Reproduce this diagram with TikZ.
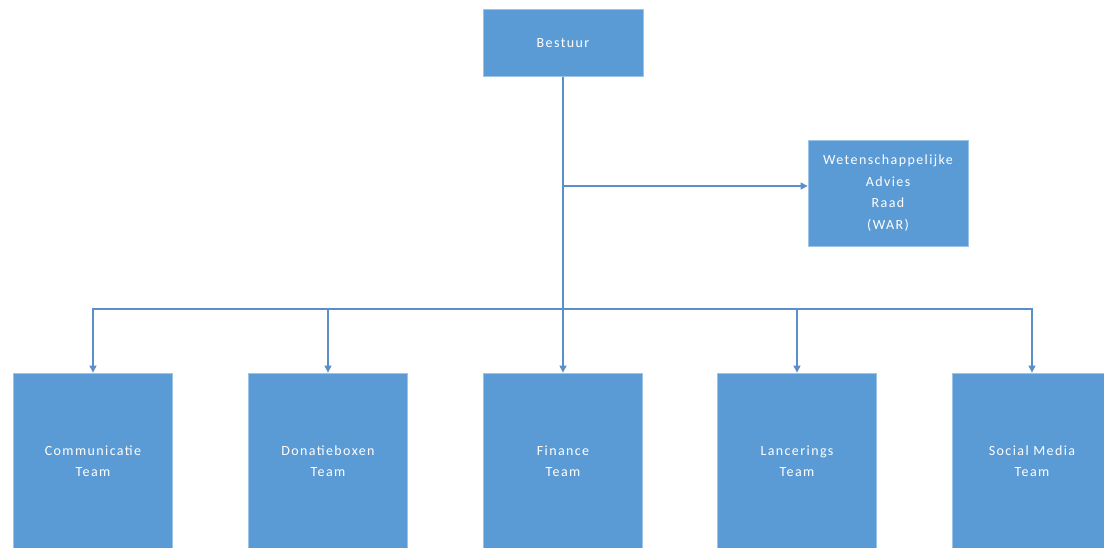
\documentclass[tikz,border=0pt]{standalone}
\usepackage{fontspec}
\setmainfont{Carlito}
\newfontfamily\orgfont[LetterSpace=10]{Carlito}
\usepackage{tikz}
\usetikzlibrary{arrows, arrows.meta}
\usetikzlibrary{positioning}
\usepackage{xcolor}

\definecolor{orgblue}{HTML}{5B9BD5}
\definecolor{lineblue}{HTML}{5B8FC9}

\begin{document}
\begin{tikzpicture}[x=1pt, y=1pt,
    orgbox/.style={rectangle, fill=orgblue, draw=orgblue!60!white, line width=0.8pt,
        text=white, align=center, font=\orgfont\fontsize{14}{21.5}\selectfont,
        inner sep=0pt},
    link/.style={draw=lineblue, line width=1.1pt},
    arr/.style={link, -{Triangle[length=7pt, width=7pt]}}] % organogram

\useasboundingbox[fill=white] (0,0) rectangle (1104,-548);
\clip (0,0) rectangle (1104,-548);

%top boxes
\node[orgbox, minimum width=160, minimum height=67] (bestuur) at (563,-43) {Bestuur};
\node[orgbox, minimum width=160, minimum height=106] (war) at (888,-193)
    {Wetenschappelijke\\Advies\\Raad\\(WAR)};

%teams
\node[orgbox, minimum width=159, minimum height=176] (comm) at (93,-461) {Communicatie\\Team};
\node[orgbox, minimum width=159, minimum height=176] (dona) at (328,-461) {Donatieboxen\\Team};
\node[orgbox, minimum width=159, minimum height=176] (fin) at (563,-461) {Finance\\Team};
\node[orgbox, minimum width=159, minimum height=176] (lanc) at (797,-461) {Lancerings\\Team};
\node[orgbox, minimum width=159, minimum height=176] (social) at (1032,-461) {Social Media\\Team};

%connectors
\coordinate (split) at (563,-186);
\coordinate (bus) at (563,-309);
\draw[arr] (bestuur.south) -- (fin.north);
\draw[arr] (split) -- (split -| war.west);
\draw[arr] (bus) -| (comm.north);
\draw[arr] (bus) -| (dona.north);
\draw[arr] (bus) -| (lanc.north);
\draw[arr] (bus) -| (social.north);

\end{tikzpicture}
\end{document}
